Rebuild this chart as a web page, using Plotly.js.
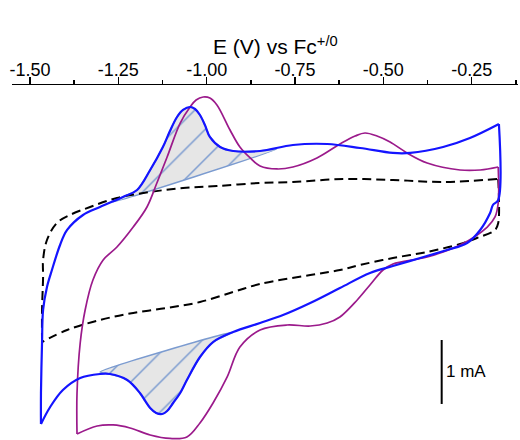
<!DOCTYPE html>
<html>
<head>
<meta charset="utf-8">
<script src="https://cdn.plot.ly/plotly-3.0.1.min.js"></script>
<style>html,body{margin:0;padding:0;background:#fff;}#chart{width:520px;height:440px;}</style>
</head>
<body>
<div id="chart"></div>
<script>
// ---- Data (potential in V vs Fc+/0, current in mA) ----
const blueV = [-1.469,-1.469,-1.466,-1.463,-1.452,-1.438,-1.415,-1.395,-1.350,-1.302,-1.237,-1.197,-1.160,-1.124,-1.104,-1.084,-1.067,-1.047,-1.033,-1.019,-1.005,-0.991,-0.962,-0.925,-0.849,-0.756,-0.659,-0.566,-0.473,-0.424,-0.331,-0.255,-0.173,
  -0.175,-0.190,-0.198,-0.226,-0.263,-0.320,-0.396,-0.473,-0.538,-0.623,-0.707,-0.784,-0.849,-0.925,-0.982,-1.019,-1.056,-1.075,-1.095,-1.112,-1.126,-1.143,-1.160,-1.174,-1.189,-1.225,-1.274,-1.302,-1.358,-1.407,-1.443,-1.469];
const blueI = [-2.594,-2.109,-1.328,-0.810,-0.453,-0.188,0.203,0.438,0.672,0.797,0.953,1.063,1.375,1.734,1.984,2.203,2.313,2.359,2.328,2.234,2.078,1.891,1.734,1.672,1.672,1.766,1.781,1.719,1.641,1.641,1.734,1.875,2.094,
  0.906,0.828,0.703,0.438,0.234,0.125,0.000,-0.125,-0.234,-0.469,-0.703,-0.891,-1.016,-1.156,-1.313,-1.547,-1.906,-2.109,-2.266,-2.391,-2.438,-2.422,-2.344,-2.234,-2.109,-1.906,-1.813,-1.813,-1.875,-2.063,-2.328,-2.594];
const blueApexIndex = 32; // switching point (end of the upper branch)

const purpleV = [-1.367,-1.367,-1.358,-1.344,-1.322,-1.293,-1.254,-1.208,-1.169,-1.141,-1.112,-1.075,-1.047,-1.030,-1.010,-0.991,-0.971,-0.934,-0.906,-0.877,-0.849,-0.801,-0.756,-0.688,-0.623,-0.580,-0.552,-0.518,-0.481,-0.433,-0.376,-0.283,-0.226,-0.175,
  -0.175,-0.184,-0.206,-0.283,-0.376,-0.473,-0.501,-0.538,-0.574,-0.623,-0.659,-0.707,-0.773,-0.849,-0.906,-0.942,-0.982,-1.019,-1.056,-1.104,-1.160,-1.217,-1.265,-1.310,-1.367];
const purpleI = [-2.750,-2.109,-1.328,-0.813,-0.344,-0.031,0.172,0.484,0.797,1.172,1.578,2.109,2.359,2.469,2.516,2.500,2.391,2.000,1.734,1.563,1.438,1.391,1.422,1.563,1.781,1.906,1.953,1.906,1.813,1.641,1.484,1.375,1.375,1.422,
  0.859,0.641,0.484,0.203,0.016,-0.094,-0.188,-0.422,-0.656,-0.922,-1.016,-1.063,-1.047,-1.125,-1.391,-1.859,-2.266,-2.578,-2.797,-2.820,-2.766,-2.656,-2.609,-2.625,-2.750];
const purpleApexIndex = 33;

const blankV = [-1.466,-1.466,-1.463,-1.463,-1.452,-1.424,-1.387,-1.330,-1.254,-1.160,-1.067,-0.971,-0.849,-0.756,-0.614,-0.473,-0.331,-0.175,
  -0.173,-0.175,-0.184,-0.235,-0.283,-0.376,-0.473,-0.566,-0.623,-0.707,-0.849,-0.925,-1.019,-1.112,-1.208,-1.302,-1.395,-1.466];
const blankI = [-1.313,-0.813,-0.297,-0.031,0.281,0.547,0.672,0.797,0.938,1.031,1.094,1.125,1.172,1.188,1.234,1.219,1.188,1.234,
  0.953,0.547,0.438,0.313,0.219,0.094,0.000,-0.109,-0.188,-0.266,-0.406,-0.531,-0.688,-0.781,-0.859,-0.969,-1.125,-1.313];
const blankApexIndex = 17;

// integration baselines (tangent lines) of the hatched peaks
const anodicBaseV = [-1.265, -0.801];
const anodicBaseI = [0.875, 1.703];
const cathodicBaseV = [-1.302, -0.925];
const cathodicBaseI = [-1.781, -1.156];

const tickValues = [-1.50, -1.25, -1.00, -0.75, -0.50, -0.25];
const tickLabels = ['-1.50', '-1.25', '-1.00', '-0.75', '-0.50', '-0.25'];
const scaleBarV = -0.335, scaleBarTop = -1.281, scaleBarMA = 1;

// ---- build hatched polygons from the blue curve and the baselines ----
function hatchPoly(from, to, baseV, baseI, reverse) {
  const xs = [], ys = [];
  const lo = Math.min(baseV[0], baseV[1]), hi = Math.max(baseV[0], baseV[1]);
  const s = reverse ? 1 : 0, e = reverse ? 0 : 1;
  xs.push(baseV[s]); ys.push(baseI[s]);
  for (let k = from; k <= to; k++) {
    if (blueV[k] > lo && blueV[k] < hi) { xs.push(blueV[k]); ys.push(blueI[k]); }
  }
  xs.push(baseV[e]); ys.push(baseI[e]);
  xs.push(baseV[s]); ys.push(baseI[s]);
  return {xs, ys};
}
const upperHatch = hatchPoly(0, blueApexIndex, anodicBaseV, anodicBaseI, false);
const lowerHatch = hatchPoly(blueApexIndex + 1, blueV.length - 1, cathodicBaseV, cathodicBaseI, true);

const hatchStyle = {
  type: 'scatter', mode: 'lines', fill: 'toself', hoverinfo: 'skip',
  line: {color: '#7b9bd0', width: 1.5, shape: 'spline', smoothing: 0.6},
  fillcolor: '#e6e6e6',
  fillpattern: {shape: '/', bgcolor: '#e6e6e6', fgcolor: '#7b9bd0', size: 21, solidity: 0.07}
};

// each cyclic voltammogram is drawn as its two sweep branches (split at the switching potential)
function branches(vs, is, apex, line) {
  return [
    {type: 'scatter', mode: 'lines', x: vs.slice(0, apex + 1), y: is.slice(0, apex + 1), line: line},
    {type: 'scatter', mode: 'lines', x: vs.slice(apex), y: is.slice(apex), line: line}
  ];
}

const traces = [
  Object.assign({}, hatchStyle, {x: upperHatch.xs, y: upperHatch.ys}),
  Object.assign({}, hatchStyle, {x: lowerHatch.xs, y: lowerHatch.ys}),
  ...branches(blankV, blankI, blankApexIndex, {color: '#000000', width: 2, dash: '9px,5px', shape: 'spline', smoothing: 1}),
  ...branches(purpleV, purpleI, purpleApexIndex, {color: '#9b1a8b', width: 1.7, shape: 'spline', smoothing: 1}),
  ...branches(blueV, blueI, blueApexIndex, {color: '#1414ff', width: 2.2, shape: 'spline', smoothing: 1})
];

const font = 'Liberation Sans, Arial, sans-serif';
const layout = {
  width: 520, height: 440,
  margin: {l: 12, r: 2, t: 85, b: 0, pad: 0},
  paper_bgcolor: '#ffffff', plot_bgcolor: '#ffffff',
  showlegend: false,
  font: {family: font, color: '#000'},
  title: {text: 'E (V) vs Fc<sup>+/0</sup>', font: {family: font, size: 21, color: '#000'},
          xref: 'container', x: 213 / 520, xanchor: 'left', yref: 'container', y: 1 - 47 / 440, yanchor: 'middle'},
  xaxis: {
    range: [-1.551, -0.119], side: 'top',
    showline: true, linecolor: '#000', linewidth: 1.5,
    ticks: 'outside', ticklen: 7, tickwidth: 1.5, tickcolor: '#000',
    tickmode: 'array', tickvals: tickValues, ticktext: tickLabels,
    ticklabelstandoff: -7,
    tickfont: {family: font, size: 18, color: '#000'},
    minor: {dtick: 0.125, tick0: -1.5, ticks: 'outside', ticklen: 3.5, tickwidth: 1.5, tickcolor: '#000', showgrid: false},
    showgrid: false, zeroline: false
  },
  yaxis: {visible: false, range: [-2.844, 2.703], showgrid: false, zeroline: false},
  shapes: [{type: 'line', xref: 'x', yref: 'y', x0: scaleBarV, x1: scaleBarV, y0: scaleBarTop, y1: scaleBarTop - scaleBarMA,
            line: {color: '#000', width: 2}}],
  annotations: [{xref: 'x', yref: 'y', x: scaleBarV, y: scaleBarTop - scaleBarMA / 2, xanchor: 'left', yanchor: 'middle',
                 xshift: 2, showarrow: false, text: scaleBarMA + ' mA', font: {family: font, size: 17, color: '#000'}}]
};

Plotly.newPlot('chart', traces, layout, {displayModeBar: false, staticPlot: true});
</script>
</body>
</html>
